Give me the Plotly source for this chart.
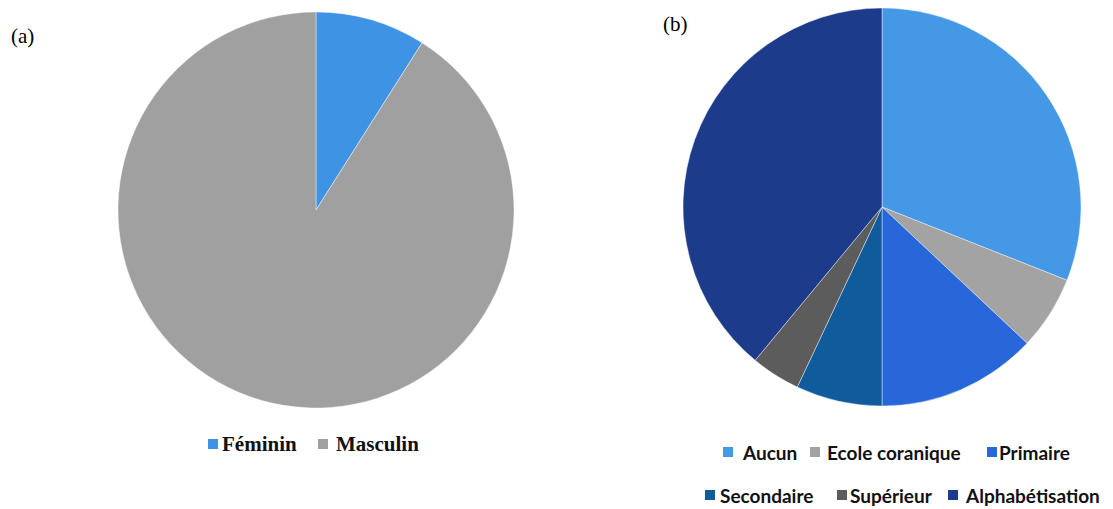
import plotly.graph_objects as go

# ---- data ----
sex_labels = ["Féminin", "Masculin"]
sex_values = [9, 91]
sex_colors = ["#3f93e4", "#a0a0a0"]

edu_labels = ["Aucun", "Ecole coranique", "Primaire", "Secondaire", "Supérieur", "Alphabétisation"]
edu_values = [31, 6, 13, 7, 4, 39]
edu_colors = ["#4598e6", "#a3a3a3", "#2767d9", "#0f5b9c", "#5c5c5c", "#1d3b8b"]

# page body has an 8px margin: figure occupies page pixels 8..W_PAGE
OFF = 8
W, H = 1113 - OFF, 509 - OFF

def px(x):
    return (x - OFF) / W

def py(y):
    return 1 - (y - OFF) / H

fig = go.Figure()

fig.add_trace(go.Pie(
    labels=sex_labels, values=sex_values, sort=False, direction="clockwise", rotation=0,
    marker=dict(colors=sex_colors, line=dict(color="rgba(255,255,255,0.7)", width=0.6)),
    textinfo="none", hoverinfo="label+percent", showlegend=False,
    domain=dict(x=[px(316 - 198), px(316 + 198)], y=[py(408), py(12)]),
))

fig.add_trace(go.Pie(
    labels=edu_labels, values=edu_values, sort=False, direction="clockwise", rotation=0,
    marker=dict(colors=edu_colors, line=dict(color="rgba(255,255,255,0.7)", width=0.6)),
    textinfo="none", hoverinfo="label+percent", showlegend=False,
    domain=dict(x=[px(882 - 199), px(882 + 199)], y=[py(406), py(8)]),
))

shapes = []
annotations = []

def legend_item(sq_x, text_x, yc, color, label, font):
    shapes.append(dict(type="rect", xref="paper", yref="paper",
                       x0=px(sq_x), x1=px(sq_x + 10), y0=py(yc + 5), y1=py(yc - 5),
                       fillcolor=color, line=dict(width=0)))
    annotations.append(dict(xref="paper", yref="paper", x=px(text_x), y=py(yc),
                            xanchor="left", yanchor="middle", showarrow=False,
                            text="<b>" + label + "</b>", font=font))

serif_font = dict(family="Liberation Serif, Times New Roman, serif", size=21, color="#111111")
sans_font = dict(family="Lato, Open Sans, sans-serif", size=19, color="#111111")

# legend (a)
sex_sq_x = [208, 318]
sex_tx_x = [220, 334]
for i, lab in enumerate(sex_labels):
    legend_item(sex_sq_x[i], sex_tx_x[i], 444, sex_colors[i], lab, serif_font)

# legend (b)
edu_sq_x = [723, 810, 987, 705, 837, 948]
edu_tx_x = [740, 825, 997, 718, 848, 963]
edu_y = [452, 452, 452, 495, 495, 495]
for i, lab in enumerate(edu_labels):
    legend_item(edu_sq_x[i], edu_tx_x[i], edu_y[i], edu_colors[i], lab, sans_font)

# panel labels
annotations.append(dict(xref="paper", yref="paper", x=px(9), y=py(36), xanchor="left",
                        yanchor="middle", showarrow=False, text="(a)",
                        font=dict(family="Liberation Serif, Times New Roman, serif", size=21, color="#000000")))
annotations.append(dict(xref="paper", yref="paper", x=px(661), y=py(24), xanchor="left",
                        yanchor="middle", showarrow=False, text="(b)",
                        font=dict(family="Liberation Serif, Times New Roman, serif", size=21, color="#000000")))

fig.update_layout(
    width=W, height=H,
    margin=dict(l=0, r=0, t=0, b=0),
    paper_bgcolor="white", plot_bgcolor="white",
    shapes=shapes, annotations=annotations,
    showlegend=False,
)

fig.write_html("out.html")
